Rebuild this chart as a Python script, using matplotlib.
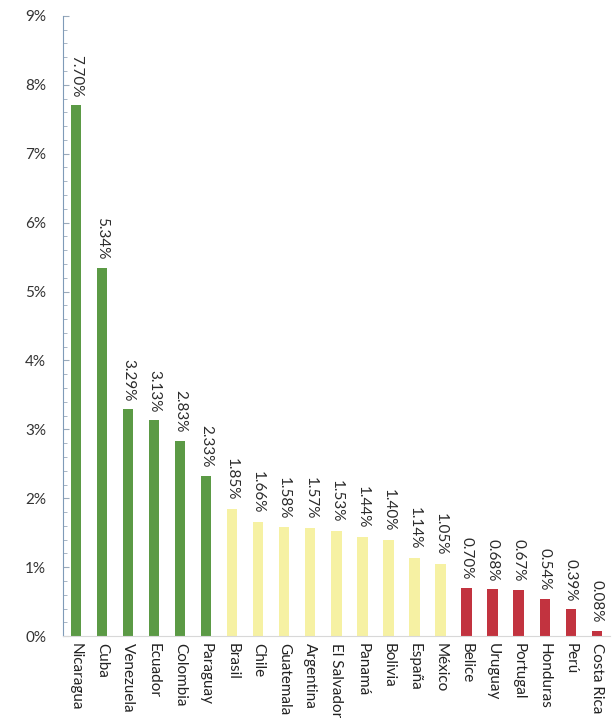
import matplotlib
matplotlib.use("Agg")
import matplotlib.pyplot as plt
from matplotlib.ticker import FuncFormatter, MultipleLocator

plt.rcParams["font.family"] = ["Lato", "DejaVu Sans"]

countries = ["Nicaragua", "Cuba", "Venezuela", "Ecuador", "Colombia", "Paraguay",
             "Brasil", "Chile", "Guatemala", "Argentina", "El Salvador", "Panamá",
             "Bolivia", "España", "México", "Belice", "Uruguay", "Portugal",
             "Honduras", "Perú", "Costa Rica"]
values = [7.70, 5.34, 3.29, 3.13, 2.83, 2.33,
          1.85, 1.66, 1.58, 1.57, 1.53, 1.44,
          1.40, 1.14, 1.05, 0.70, 0.68, 0.67,
          0.54, 0.39, 0.08]
groups = ["high"] * 6 + ["mid"] * 9 + ["low"] * 6

palette = {"high": "#5b9a45", "mid": "#f6f1a3", "low": "#c2333f"}
colors = [palette[g] for g in groups]

fig = plt.figure(figsize=(6.16, 7.18), dpi=100)
ax = fig.add_axes([0.102, 0.114, 0.888, 0.864])

x = range(len(countries))
ax.bar(x, values, width=0.4, color=colors)

for i, v in enumerate(values):
    ax.text(i, v + 0.12, f"{v:.2f}%", rotation=-90, ha="center", va="bottom",
            fontsize=11, color="#2b2b2b")

ax.set_xlim(-0.5, len(countries) - 0.5)
ax.set_ylim(0, 9)
ax.set_xticks(list(x))
ax.set_xticklabels(countries, rotation=-90, fontsize=11, color="#222222")
ax.yaxis.set_major_locator(MultipleLocator(1))
ax.yaxis.set_minor_locator(MultipleLocator(0.2))
ax.yaxis.set_major_formatter(FuncFormatter(lambda v, _: f"{v:.0f}%"))
ax.tick_params(axis="y", which="both", direction="in", color="#9aaabb",
               labelsize=11, labelcolor="#333333", pad=12)
ax.tick_params(axis="y", which="major", length=4)
ax.tick_params(axis="y", which="minor", length=3)
ax.tick_params(axis="x", length=0, pad=5)

for side in ["top", "right"]:
    ax.spines[side].set_visible(False)
ax.spines["left"].set_color("#7f9bb8")
ax.spines["bottom"].set_color("#d8d8d8")

fig.savefig("out.png", dpi=100)
